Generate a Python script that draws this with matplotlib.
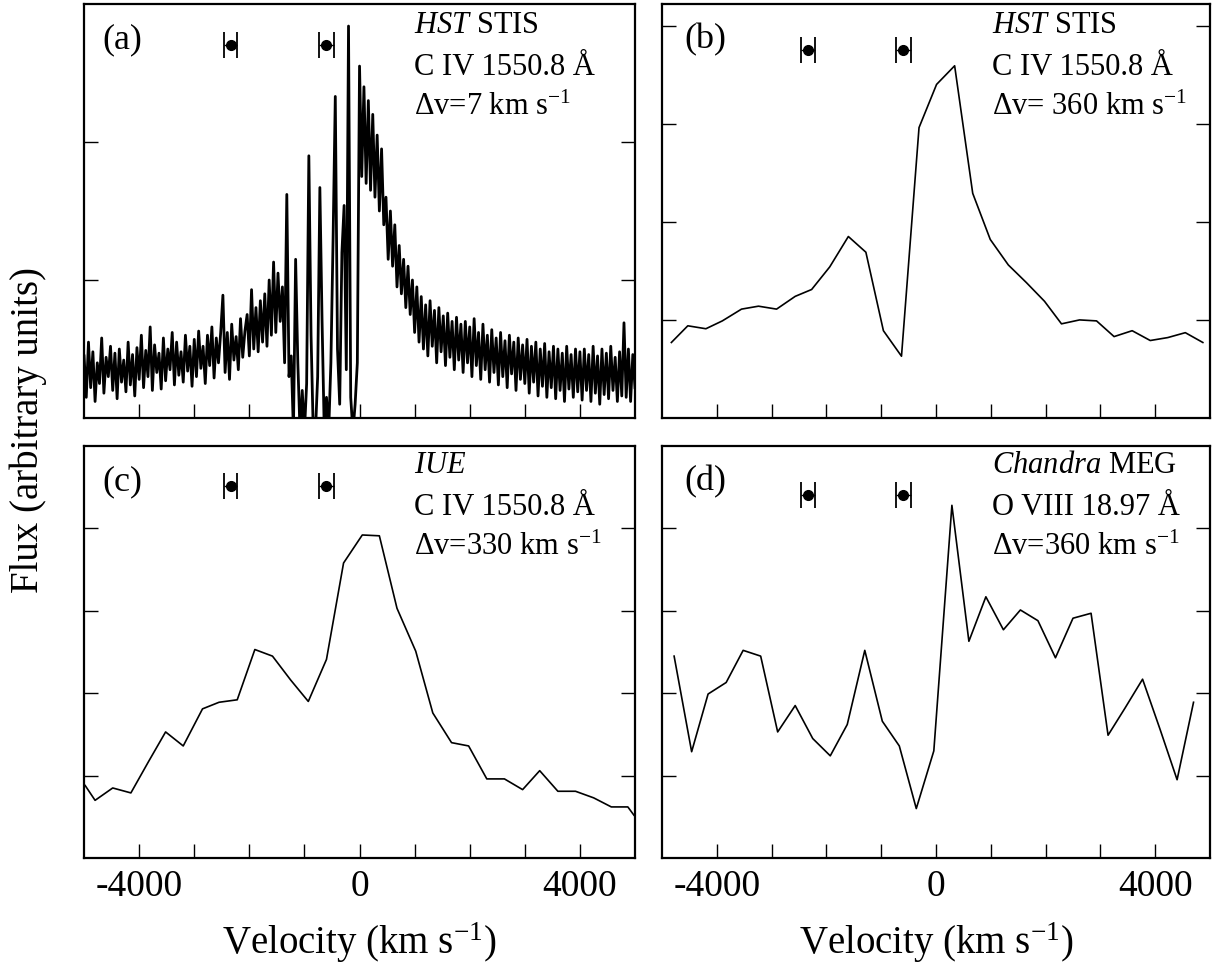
import numpy as np
import matplotlib.pyplot as plt

plt.rcParams['font.family'] = ['Liberation Serif', 'DejaVu Serif']
plt.rcParams['mathtext.fontset'] = 'custom'
plt.rcParams['mathtext.rm'] = 'Liberation Serif'
plt.rcParams['mathtext.it'] = 'Liberation Serif:italic'

# (a) HST STIS C IV, native resolution (sampled every 40 km/s from -5000 to 5000)
flux_a = [
    0.45, 0.15, 0.55, 0.22, 0.48, 0.12, 0.40, 0.25, 0.58, 0.18, 0.44, 0.30, 0.52,
    0.20, 0.47, 0.14, 0.50, 0.26, 0.42, 0.19, 0.55, 0.24, 0.46, 0.16, 0.51,
    0.28, 0.60, 0.22, 0.49, 0.30, 0.66, 0.20, 0.53, 0.33, 0.47, 0.21, 0.58, 0.27,
    0.50, 0.35, 0.62, 0.24, 0.55, 0.31, 0.48, 0.26, 0.60, 0.34, 0.52, 0.23,
    0.57, 0.30, 0.63, 0.36, 0.52, 0.25, 0.60, 0.38, 0.66, 0.29, 0.58, 0.40, 0.62,
    0.89, 0.33, 0.62, 0.28, 0.68, 0.42, 0.59, 0.35, 0.72, 0.44, 0.63, 0.75,
    0.45, 0.93, 0.50, 0.80, 0.48, 0.85, 0.55, 0.90, 0.52, 1.00, 0.60, 1.13, 0.62,
    1.05, 0.70, 0.95, 0.40, 1.62, 0.30, 0.45, -0.10, 1.15, 0.40, -0.10, 0.20,
    -0.10, 0.25, 1.90, 0.60, -0.10, -0.10, 0.30, 1.67, 0.70, -0.10, 0.15, -0.10,
    0.40, 1.30, 2.33, 0.50, 0.10, 1.20, 1.54, 0.35, 2.84, 0.15, -0.10, 0.10, 0.40,
    2.55, 1.75, 2.40, 1.70, 2.30, 1.65, 2.20, 1.60, 2.05, 1.50, 1.95, 1.40, 1.60,
    1.15, 1.50, 1.10, 1.40, 0.95, 1.25, 0.90, 1.15, 0.80, 1.10, 0.75, 1.00,
    0.62, 0.95, 0.55, 0.88, 0.50, 0.82, 0.45, 0.85, 0.52, 0.78, 0.40, 0.80, 0.48,
    0.74, 0.38, 0.76, 0.44, 0.70, 0.35, 0.73, 0.42, 0.68, 0.33, 0.70, 0.40,
    0.66, 0.30, 0.72, 0.38, 0.62, 0.28, 0.68, 0.35, 0.60, 0.26, 0.64, 0.33, 0.58,
    0.24, 0.62, 0.30, 0.56, 0.22, 0.60, 0.32, 0.55, 0.20, 0.58, 0.28, 0.53,
    0.25, 0.57, 0.18, 0.52, 0.26, 0.55, 0.16, 0.50, 0.23, 0.54, 0.15, 0.48, 0.22,
    0.52, 0.14, 0.50, 0.20, 0.47, 0.12, 0.52, 0.21, 0.46, 0.15, 0.50, 0.19,
    0.48, 0.13, 0.50, 0.20, 0.46, 0.12, 0.52, 0.18, 0.45, 0.10, 0.50, 0.17, 0.47,
    0.14, 0.52, 0.20, 0.44, 0.12, 0.48, 0.16, 0.69, 0.15, 0.50, 0.12, 0.46, 0.22,
]
vel_a = np.linspace(-5000, 5000, len(flux_a))

# (b) HST STIS C IV, rebinned
vel_b = [-4830, -4530, -4200, -3900, -3550, -3240, -2910, -2570, -2270, -1940,
         -1600, -1280, -960, -630, -310, 10, 340, 670, 990, 1320, 1650, 1980,
         2290, 2620, 2930, 3250, 3580, 3910, 4230, 4550, 4870]
flux_b = [0.77, 0.94, 0.91, 0.99, 1.11, 1.14, 1.11, 1.24, 1.31, 1.54, 1.85, 1.69,
          0.89, 0.63, 2.96, 3.40, 3.59, 2.29, 1.82, 1.56, 1.38, 1.19, 0.96, 1.00,
          0.99, 0.83, 0.89, 0.79, 0.82, 0.87, 0.77]

# (c) IUE C IV
vel_c = [-4980, -4800, -4480, -4150, -3830, -3520, -3200, -2850, -2550, -2220,
         -1900, -1580, -1250, -930, -600, -290, 50, 360, 680, 1020, 1330, 1670,
         1980, 2310, 2630, 2960, 3270, 3600, 3920, 4250, 4570, 4870, 4980]
flux_c = [0.88, 0.70, 0.85, 0.79, 1.17, 1.53, 1.36, 1.81, 1.89, 1.92, 2.53, 2.45,
          2.16, 1.90, 2.41, 3.58, 3.92, 3.91, 3.03, 2.51, 1.76, 1.40, 1.36, 0.96,
          0.96, 0.83, 1.06, 0.81, 0.81, 0.73, 0.62, 0.62, 0.52]

# (d) Chandra MEG O VIII
vel_d = [-4780, -4460, -4160, -3830, -3520, -3200, -2890, -2570, -2250, -1930,
         -1620, -1300, -980, -670, -360, -40, 290, 600, 910, 1230, 1540, 1860,
         2180, 2500, 2830, 3140, 3450, 3770, 4090, 4400, 4700]
flux_d = [2.45, 1.29, 1.99, 2.13, 2.52, 2.45, 1.53, 1.85, 1.45, 1.24, 1.62, 2.52,
          1.66, 1.36, 0.60, 1.30, 4.28, 2.63, 3.17, 2.77, 3.01, 2.88, 2.43, 2.91,
          2.97, 1.49, 1.82, 2.17, 1.56, 0.95, 1.89]

# absorber velocities with their uncertainties
abs_vel = [-2340, -600]
abs_err = [125, 135]

x_ticks = [-4000, -3000, -2000, -1000, 0, 1000, 2000, 3000, 4000]
x_ticklabels = ['-4000', '', '', '', '0', '', '', '', '4000']

panels = [
    dict(rect=[0.0693, 0.5677, 0.4542, 0.4282], x=vel_a, y=flux_a, ylim=3.0,
         yticks=[1, 2], abs_y=2.70, tag='(a)',
         lines=[r'$\mathit{HST}$ STIS', 'C IV 1550.8 Å',
                r'Δv=7 km s$^{-1}$'], lw=2.0),
    dict(rect=[0.5458, 0.5677, 0.4517, 0.4282], x=vel_b, y=flux_b, ylim=4.22,
         yticks=[1, 2, 3, 4], abs_y=3.75, tag='(b)',
         lines=[r'$\mathit{HST}$ STIS', 'C IV 1550.8 Å',
                r'Δv= 360 km s$^{-1}$'], lw=1.2),
    dict(rect=[0.0693, 0.1127, 0.4542, 0.4261], x=vel_c, y=flux_c, ylim=5.0,
         yticks=[1, 2, 3, 4], abs_y=4.51, tag='(c)',
         lines=[r'$\mathit{IUE}$', 'C IV 1550.8 Å',
                r'Δv=330 km s$^{-1}$'], lw=1.2),
    dict(rect=[0.5458, 0.1127, 0.4517, 0.4261], x=vel_d, y=flux_d, ylim=5.0,
         yticks=[1, 2, 3, 4], abs_y=4.41, tag='(d)',
         lines=[r'$\mathit{Chandra}$ MEG', 'O VIII 18.97 Å',
                r'Δv=360 km s$^{-1}$'], lw=1.2),
]

fig = plt.figure(figsize=(12.13, 9.67), dpi=100)

for i, p in enumerate(panels):
    ax = fig.add_axes(p['rect'])
    ax.plot(p['x'], p['y'], color='black', lw=p['lw'])
    ax.errorbar(abs_vel, [p['abs_y']] * 2, xerr=abs_err, fmt='o', color='black',
                ms=7, capsize=9.5, elinewidth=1.0, capthick=1.3)
    ax.set_xlim(-5000, 5000)
    ax.set_ylim(0, p['ylim'])
    ax.set_xticks(x_ticks)
    ax.set_yticks(p['yticks'])
    ax.tick_params(direction='in', length=10, width=1.0, top=False, right=True,
                   labelleft=False, labelsize=27, pad=8)
    for s in ax.spines.values():
        s.set_linewidth(1.6)
    if i < 2:
        ax.tick_params(labelbottom=False)
    else:
        ax.set_xticklabels(x_ticklabels)
        ax.set_xlabel(r'Velocity (km s$^{-1}$)', fontsize=28, labelpad=12)
    tx = 0.033 if i % 2 == 0 else 0.040
    ax.text(tx, 0.893, p['tag'], transform=ax.transAxes, fontsize=26,
            va='baseline')
    lx = 0.599 if i % 2 == 0 else 0.602
    base = [0.930, 0.828, 0.732] if i < 2 else [0.934, 0.833, 0.735]
    for txt, yb in zip(p['lines'], base):
        ax.text(lx, yb, txt, transform=ax.transAxes, fontsize=22, va='baseline')

fig.text(0.023, 0.555, 'Flux (arbitrary units)', rotation=90, fontsize=28,
         ha='center', va='center')

fig.savefig('out.png', dpi=100)
